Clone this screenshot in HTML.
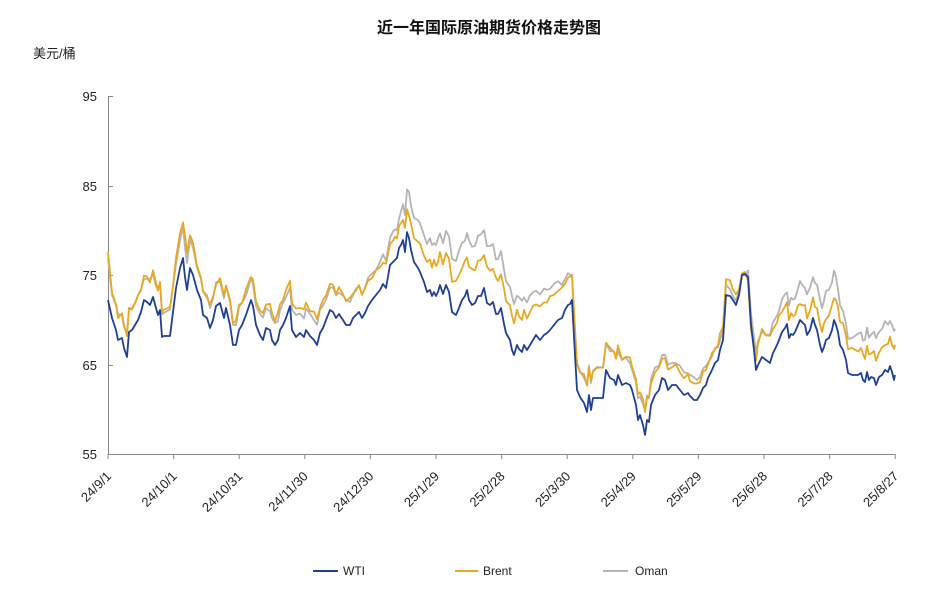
<!DOCTYPE html>
<html><head><meta charset="utf-8"><style>
body{margin:0;background:#fff;}
svg text{font-family:"Liberation Sans","Noto Sans CJK SC",sans-serif;}
</style></head><body>
<svg id="s" width="938" height="602" xmlns="http://www.w3.org/2000/svg">
<text x="489" y="33" text-anchor="middle" font-size="16" font-weight="bold" fill="#111">近一年国际原油期货价格走势图</text>
<text x="33" y="58" font-size="13" fill="#222">美元/桶</text>
<g font-size="13" fill="#222" text-anchor="end">
<text x="97" y="101">95</text><text x="97" y="191">85</text><text x="97" y="280">75</text><text x="97" y="370">65</text><text x="97" y="459">55</text>
</g>
<g stroke="#888" stroke-width="1">
<line x1="108.5" y1="96" x2="108.5" y2="454"/>
<line x1="108" y1="454.5" x2="895" y2="454.5"/>
<line x1="108" y1="96.5" x2="113" y2="96.5"/><line x1="108" y1="186.5" x2="113" y2="186.5"/><line x1="108" y1="275.5" x2="113" y2="275.5"/><line x1="108" y1="365.5" x2="113" y2="365.5"/>
</g>
<g id="xt"></g>
<g id="lines"></g>
<g font-size="12" fill="#222">
<line x1="313" y1="571" x2="338" y2="571" stroke="#1f3f93" stroke-width="2"/><text x="343" y="575">WTI</text>
<line x1="455" y1="571" x2="478" y2="571" stroke="#e8a820" stroke-width="2"/><text x="483" y="575">Brent</text>
<line x1="603" y1="571" x2="628" y2="571" stroke="#b4b4b4" stroke-width="2"/><text x="635" y="575">Oman</text>
</g>
</svg>
<script>
var NS="http://www.w3.org/2000/svg";
var labs=["24/9/1","24/10/1","24/10/31","24/11/30","24/12/30","25/1/29","25/2/28","25/3/30","25/4/29","25/5/29","25/6/28","25/7/28","25/8/27"];
var xt=document.getElementById("xt");
labs.forEach(function(l,i){var x=108+i*65.6;
var t=document.createElementNS(NS,"line");t.setAttribute("x1",x);t.setAttribute("x2",x);t.setAttribute("y1",454);t.setAttribute("y2",459);t.setAttribute("stroke","#888");xt.appendChild(t);
var tx=document.createElementNS(NS,"text");tx.textContent=l;tx.setAttribute("font-size","13");tx.setAttribute("fill","#222");tx.setAttribute("text-anchor","end");
tx.setAttribute("transform","translate("+(x+4)+",477) rotate(-45)");xt.appendChild(tx);});
var w=[108,300,112,318,116,330,118,340,122,338,124,348,127,357,129,332,132,330,135,325,138,320,141,312,144,300,147,302,150,305,153,297,156,308,158,315,160,310,162,337,164,336,170,336,173,312,176,288,180,268,183,258,185,277,187,290,190,268,193,275,197,290,201,300,203,315,207,318,210,328,213,320,216,306,220,303,224,318,226,308,230,325,233,345,236,345,239,330,242,325,246,315,249,306,251,300,253,306,256,325,260,335,263,340,266,328,270,330,272,340,275,345,278,340,280,330,283,325,286,318,290,306,292,330,296,337,300,333,304,337,306,330,310,336,314,340,317,345,320,333,323,328,326,320,330,310,333,312,336,318,339,314,343,320,346,325,350,325,353,318,356,315,359,312,362,318,365,313,368,306,372,300,376,295,380,290,383,284,386,288,390,265,393,262,395,260,397,258,399,248,401,245,403,240,405,252,407,232,409,238,411,250,414,262,418,268,420,272,424,282,427,292,430,290,432,296,434,292,436,296,438,292,440,285,443,294,446,285,449,292,452,312,456,315,459,308,462,300,465,296,467,290,469,300,472,305,475,303,478,296,481,296,484,288,487,303,490,305,493,302,496,314,498,314,501,308,504,324,506,333,510,340,512,350,514,355,517,345,519,349,522,352,524,345,527,350,530,345,533,340,536,335,540,340,544,335,547,333,550,330,554,325,558,320,562,318,565,310,568,305,570,304,572,300,575,355,577,390,580,397,584,403,587,412,589,395,591,410,593,398,597,398,603,398,606,370,610,378,614,380,616,385,618,375,622,385,626,383,630,385,632,390,636,405,638,420,640,415,643,425,645,435,647,420,649,422,651,405,655,395,659,390,662,378,665,380,668,390,672,385,676,385,680,390,684,395,688,393,690,396,694,400,697,400,700,395,703,388,706,385,708,378,712,370,715,363,718,360,720,350,723,340,726,295,730,296,733,300,736,305,739,295,742,275,745,274,748,277,751,325,754,350,756,370,758,365,762,357,766,360,770,363,773,353,777,345,779,340,782,332,785,328,787,324,789,338,791,334,793,335,795,332,798,325,800,320,802,322,805,325,807,335,810,330,813,318,815,325,817,330,820,345,822,352,824,347,826,340,829,338,832,330,834,320,836,325,838,332,840,345,843,350,846,360,848,373,852,375,858,375,861,373,863,380,865,382,867,372,869,380,871,377,874,378,876,385,879,377,882,375,885,370,888,372,890,366,892,372,894,380,895,375];
var gB=[108,50,112,25,130,22,175,28,185,40,200,22,300,27,360,25,400,21,430,30,480,35,550,32,575,25,600,30,650,23,700,15,730,15,745,0,752,-5,760,28,800,17,840,25,880,25,895,30];
var gO=[108,42,112,25,130,22,175,25,185,30,200,22,300,20,360,25,400,30,408,44,430,50,480,60,550,43,575,25,600,30,640,20,650,26,700,20,745,0,760,25,800,37,833,50,845,35,880,47,895,47];
function interp(g,x){for(var i=0;i<g.length-2;i+=2){if(x<=g[i+2]){var t=(x-g[i])/(g[i+2]-g[i]);return g[i+1]+t*(g[i+3]-g[i+1]);}}return g[g.length-1];}
function mk(fn){var p=[];for(var i=0;i<w.length;i+=2){var x=w[i],y=w[i+1];p.push(x+","+fn(x,y,i/2).toFixed(1));}return p.join(" ");}
function add(pts,c){var l=document.createElementNS(NS,"polyline");l.setAttribute("points",pts);l.setAttribute("fill","none");l.setAttribute("stroke",c);l.setAttribute("stroke-width","1.8");l.setAttribute("stroke-linejoin","round");document.getElementById("lines").appendChild(l);}
add(mk(function(x,y,i){return y-interp(gO,x)+2*Math.sin(i*1.7);}),"#b4b4b4");
add(mk(function(x,y,i){return y-interp(gB,x)+2*Math.sin(i*2.3+1);}),"#e8a820");
add(mk(function(x,y){return y;}),"#1f3f93");
</script>
</body></html>
